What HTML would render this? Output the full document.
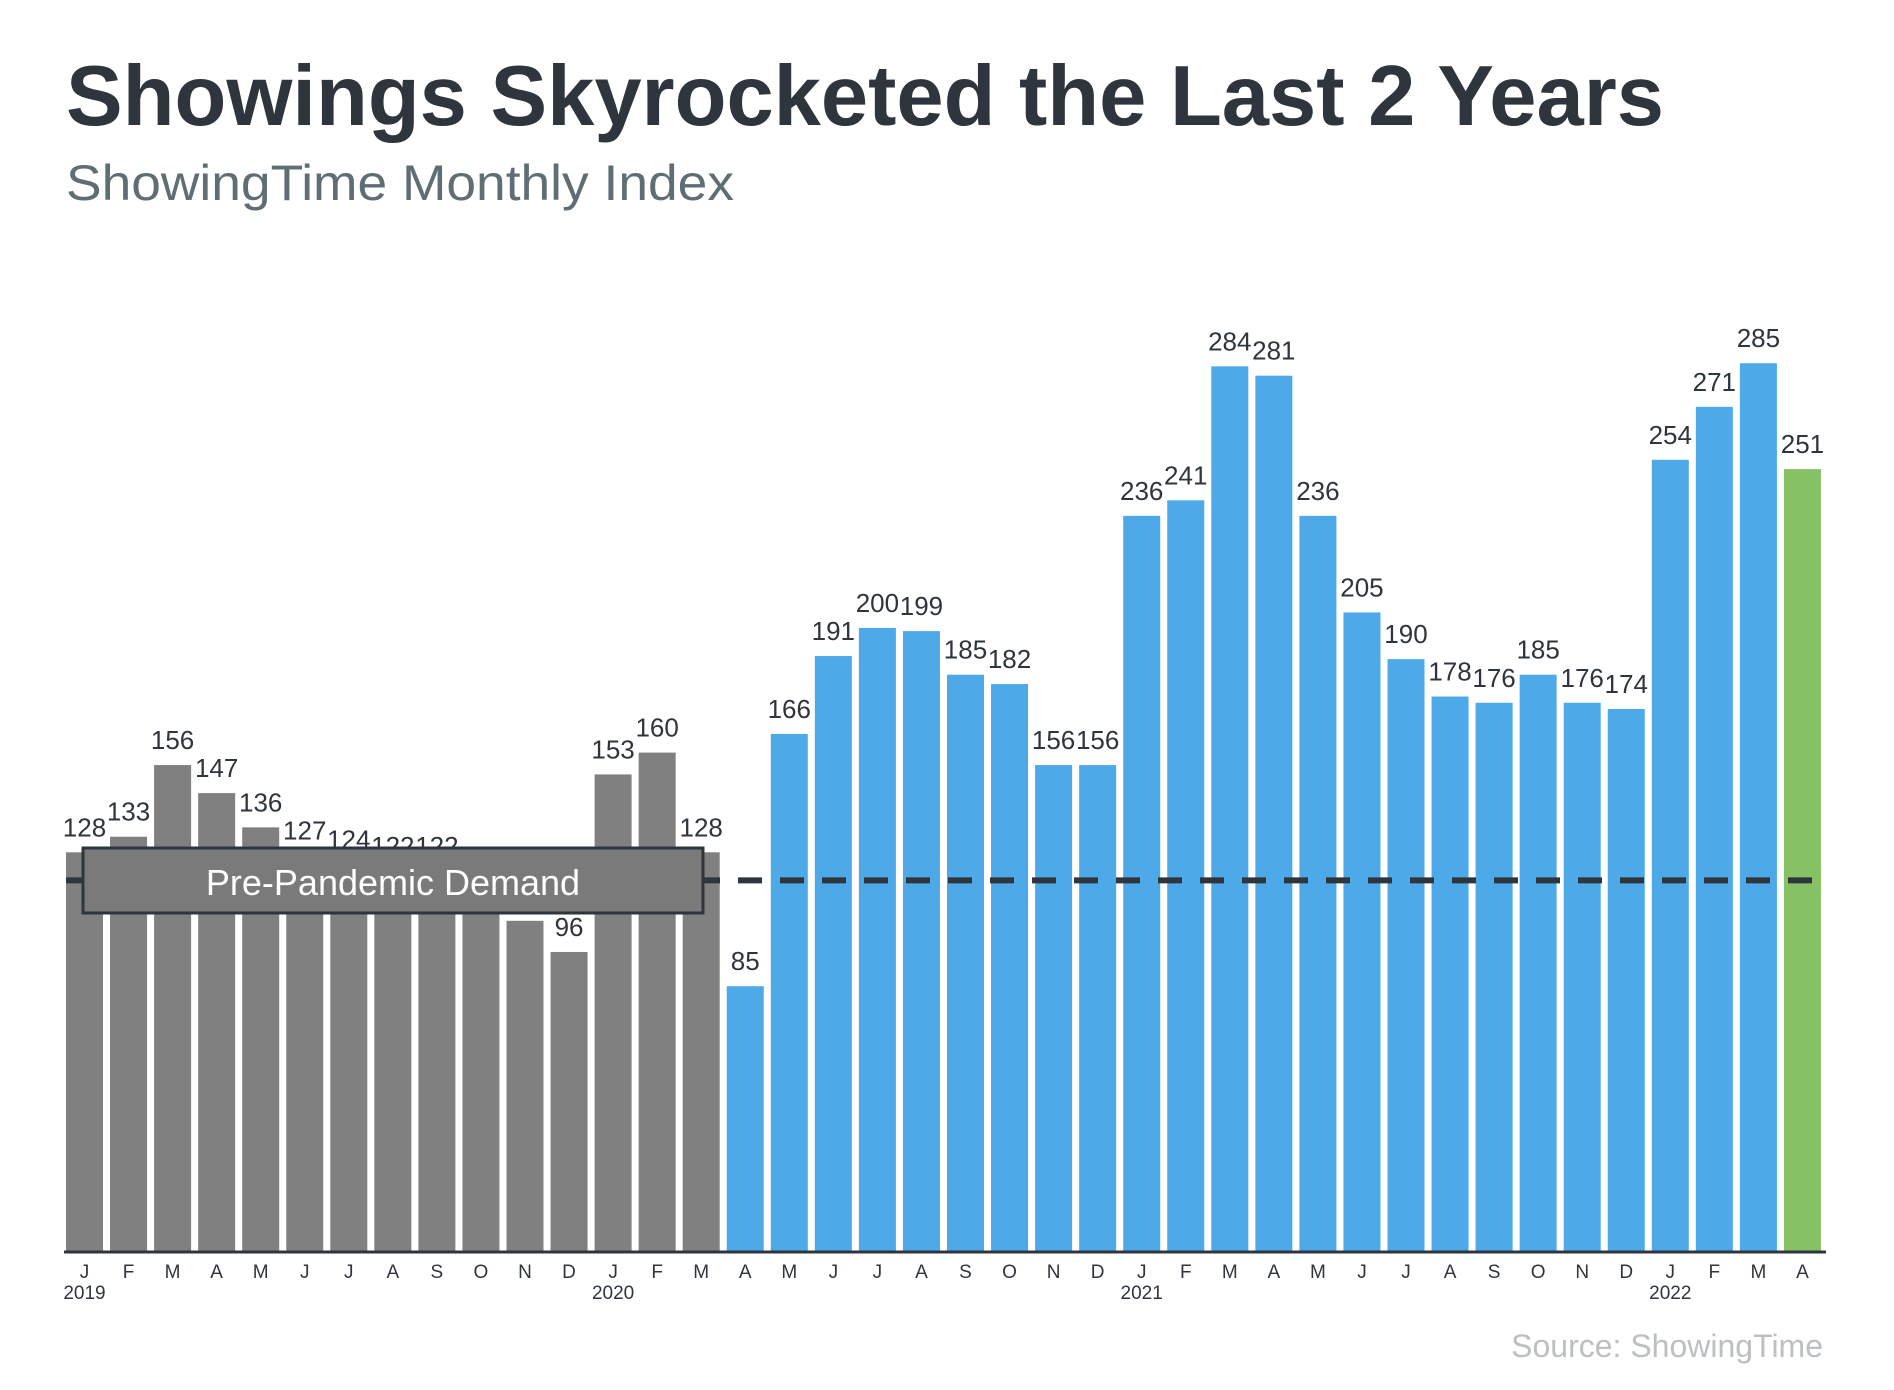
<!DOCTYPE html>
<html><head><meta charset="utf-8"><style>
html,body{margin:0;padding:0;background:#fff;}
svg{display:block;font-family:"Liberation Sans",Arial,sans-serif;}
</style></head><body>
<svg id="chart" width="1894" height="1390" viewBox="0 0 1894 1390" xmlns="http://www.w3.org/2000/svg">
<text x="66" y="125" font-size="85" font-weight="bold" fill="#2f353d" textLength="1598" lengthAdjust="spacingAndGlyphs">Showings Skyrocketed the Last 2 Years</text>
<text x="66" y="200" font-size="50" fill="#5f6e74" textLength="668" lengthAdjust="spacingAndGlyphs">ShowingTime Monthly Index</text>
<g id="bars"></g>
<g id="labels"></g>
<g id="xaxis"></g>
<g id="ref"></g>
<text x="1823" y="1357" font-size="32" fill="#bcc0c2" text-anchor="end">Source: ShowingTime</text>
</svg>
<script>
const months = ["J","F","M","A","M","J","J","A","S","O","N","D","J","F","M","A","M","J","J","A","S","O","N","D","J","F","M","A","M","J","J","A","S","O","N","D","J","F","M","A"];
const years = ["2019","","","","","","","","","","","","2020","","","","","","","","","","","","2021","","","","","","","","","","","","2022","","",""];
const values = [128,133,156,147,136,127,124,122,122,114,106,96,153,160,128,85,166,191,200,199,185,182,156,156,236,241,284,281,236,205,190,178,176,185,176,174,254,271,285,251];
const periods = ["pre","pre","pre","pre","pre","pre","pre","pre","pre","pre","pre","pre","pre","pre","pre","post","post","post","post","post","post","post","post","post","post","post","post","post","post","post","post","post","post","post","post","post","post","post","post","latest"];
const hiddenLabels = [9,10];
const preAverage = 119;

const NS="http://www.w3.org/2000/svg";
const x0=84.5, step=44.05, bw=37, baseY=1251, k=3.115;
const xc=i=>x0+i*step;
const y=v=>baseY-v*k;
const colors={pre:"#808080",post:"#4ea9e8",latest:"#86c166"};
function mk(tag,attrs,parent){const e=document.createElementNS(NS,tag);for(const a in attrs)e.setAttribute(a,attrs[a]);parent.appendChild(e);return e;}
const gb=document.getElementById('bars'),gl=document.getElementById('labels'),gx=document.getElementById('xaxis'),gr=document.getElementById('ref');
values.forEach((v,i)=>{
  const r=mk('rect',{x:xc(i)-bw/2,y:y(v),width:bw,height:v*k,fill:colors[periods[i]]},gb);
  
  
  if(!hiddenLabels.includes(i)){
    const t=mk('text',{x:xc(i),y:y(v)-16,'font-size':26,fill:'#2f353d','text-anchor':'middle'},gl);
    t.textContent=v;
    
    
  }
  const m=mk('text',{x:xc(i),y:1278,'font-size':19,fill:'#2f353d','text-anchor':'middle'},gx);
  m.textContent=months[i];
  
  
  if(years[i]){
    const yt=mk('text',{x:xc(i),y:1299,'font-size':19,fill:'#2f353d','text-anchor':'middle'},gx);
    yt.textContent=years[i];
    
    
  }
});
const ax=mk('line',{x1:64,x2:1826,y1:baseY+1,y2:baseY+1,stroke:'#2f353d','stroke-width':3},gx);


const dl=mk('line',{x1:66,x2:1822,y1:y(preAverage),y2:y(preAverage),stroke:'#2f353d','stroke-width':6,'stroke-dasharray':'24 18'},gr);


const bx=mk('rect',{x:83,y:848,width:620,height:65,fill:'#7a7a7a',stroke:'#2f353d','stroke-width':3},gr);


const bt=mk('text',{x:393,y:895,'font-size':36,fill:'#ffffff','text-anchor':'middle'},gr);
bt.textContent='Pre-Pandemic Demand';


</script>
</body></html>
